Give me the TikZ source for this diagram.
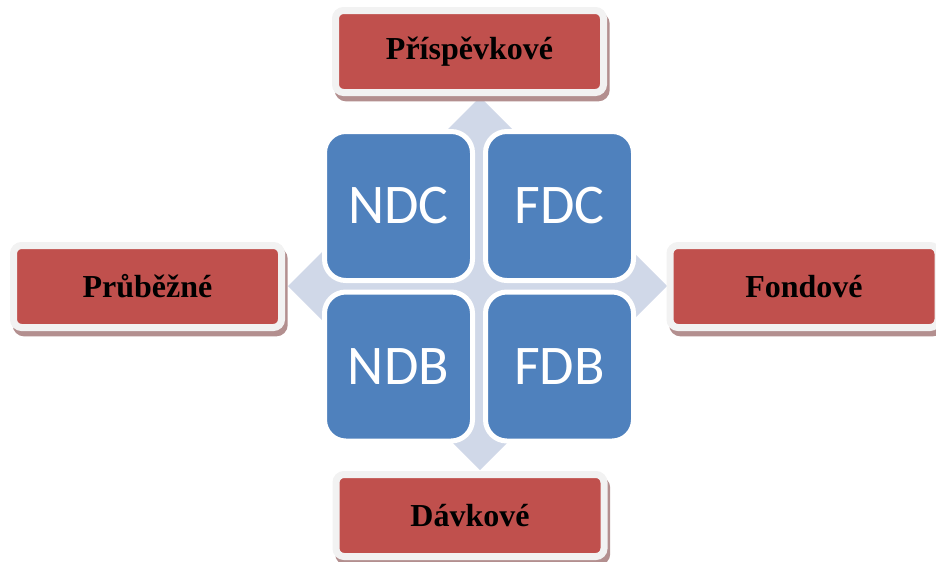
\documentclass[tikz,border=0pt]{standalone}
\usepackage{fontspec}
\setmainfont{Liberation Serif}
\newfontfamily\cellfont{Carlito}
\usepackage{tikz}
\usetikzlibrary{shadows}
\definecolor{boxred}{HTML}{C0504D}
\definecolor{framegrey}{HTML}{F2F2F2}
\definecolor{shadowbrown}{HTML}{B38F8F}
\definecolor{cellblue}{HTML}{4F81BD}
\definecolor{crossgrey}{HTML}{D0D8E8}
\tikzset{
    % red category boxes round the matrix
    typebox/.style={rectangle, rounded corners=6pt, fill=boxred, draw=framegrey,
        line width=5.25pt, minimum width=201pt, minimum height=61.5pt,
        font=\bfseries\fontsize{24}{28}\selectfont, text=black,
        drop shadow={shadow xshift=2pt, shadow yshift=-4pt, fill=shadowbrown,
            draw=shadowbrown, line width=5.25pt, opacity=1}},
    % blue cells of the 2x2 matrix
    cell/.style={rectangle, rounded corners=16pt, fill=cellblue, draw=white,
        line width=3.75pt, minimum width=111pt, minimum height=111.75pt,
        font=\cellfont\fontsize{42}{46}\selectfont, text=white},
    crossarrow/.style={fill=crossgrey}
}

\begin{document}
\begin{tikzpicture}[x=0.75pt, y=-0.75pt]
  \useasboundingbox (0,0) rectangle (936,561);

  % four-way arrow behind the matrix
  \fill[crossarrow]
    (455,157) -- (420,157) -- (480,97) -- (540,157) -- (505,157)
    -- (505,261) -- (607,261) -- (607,226) -- (667,286) -- (607,346) -- (607,311)
    -- (505,311) -- (505,410) -- (540,410) -- (480,470) -- (420,410) -- (455,410)
    -- (455,311) -- (348,311) -- (348,346) -- (288,286) -- (348,226) -- (348,261)
    -- (455,261) -- cycle;

  % matrix cells
  \node[cell] (ndc) at (398.5,206) {NDC};
  \node[cell] (fdc) at (559.5,206) {FDC};
  \node[cell] (ndb) at (398.5,366.5) {NDB};
  \node[cell] (fdb) at (559.5,366.5) {FDB};

  % categories
  \node[typebox] (prisp) at (469.5,51.5) {Příspěvkové};
  \node[typebox] (prub) at (147.5,286.5) {Průběžné};
  \node[typebox] (fond) at (804,286.5) {Fondové};
  \node[typebox] (davk) at (470,515.5) {Dávkové};

\end{tikzpicture}
\end{document}
